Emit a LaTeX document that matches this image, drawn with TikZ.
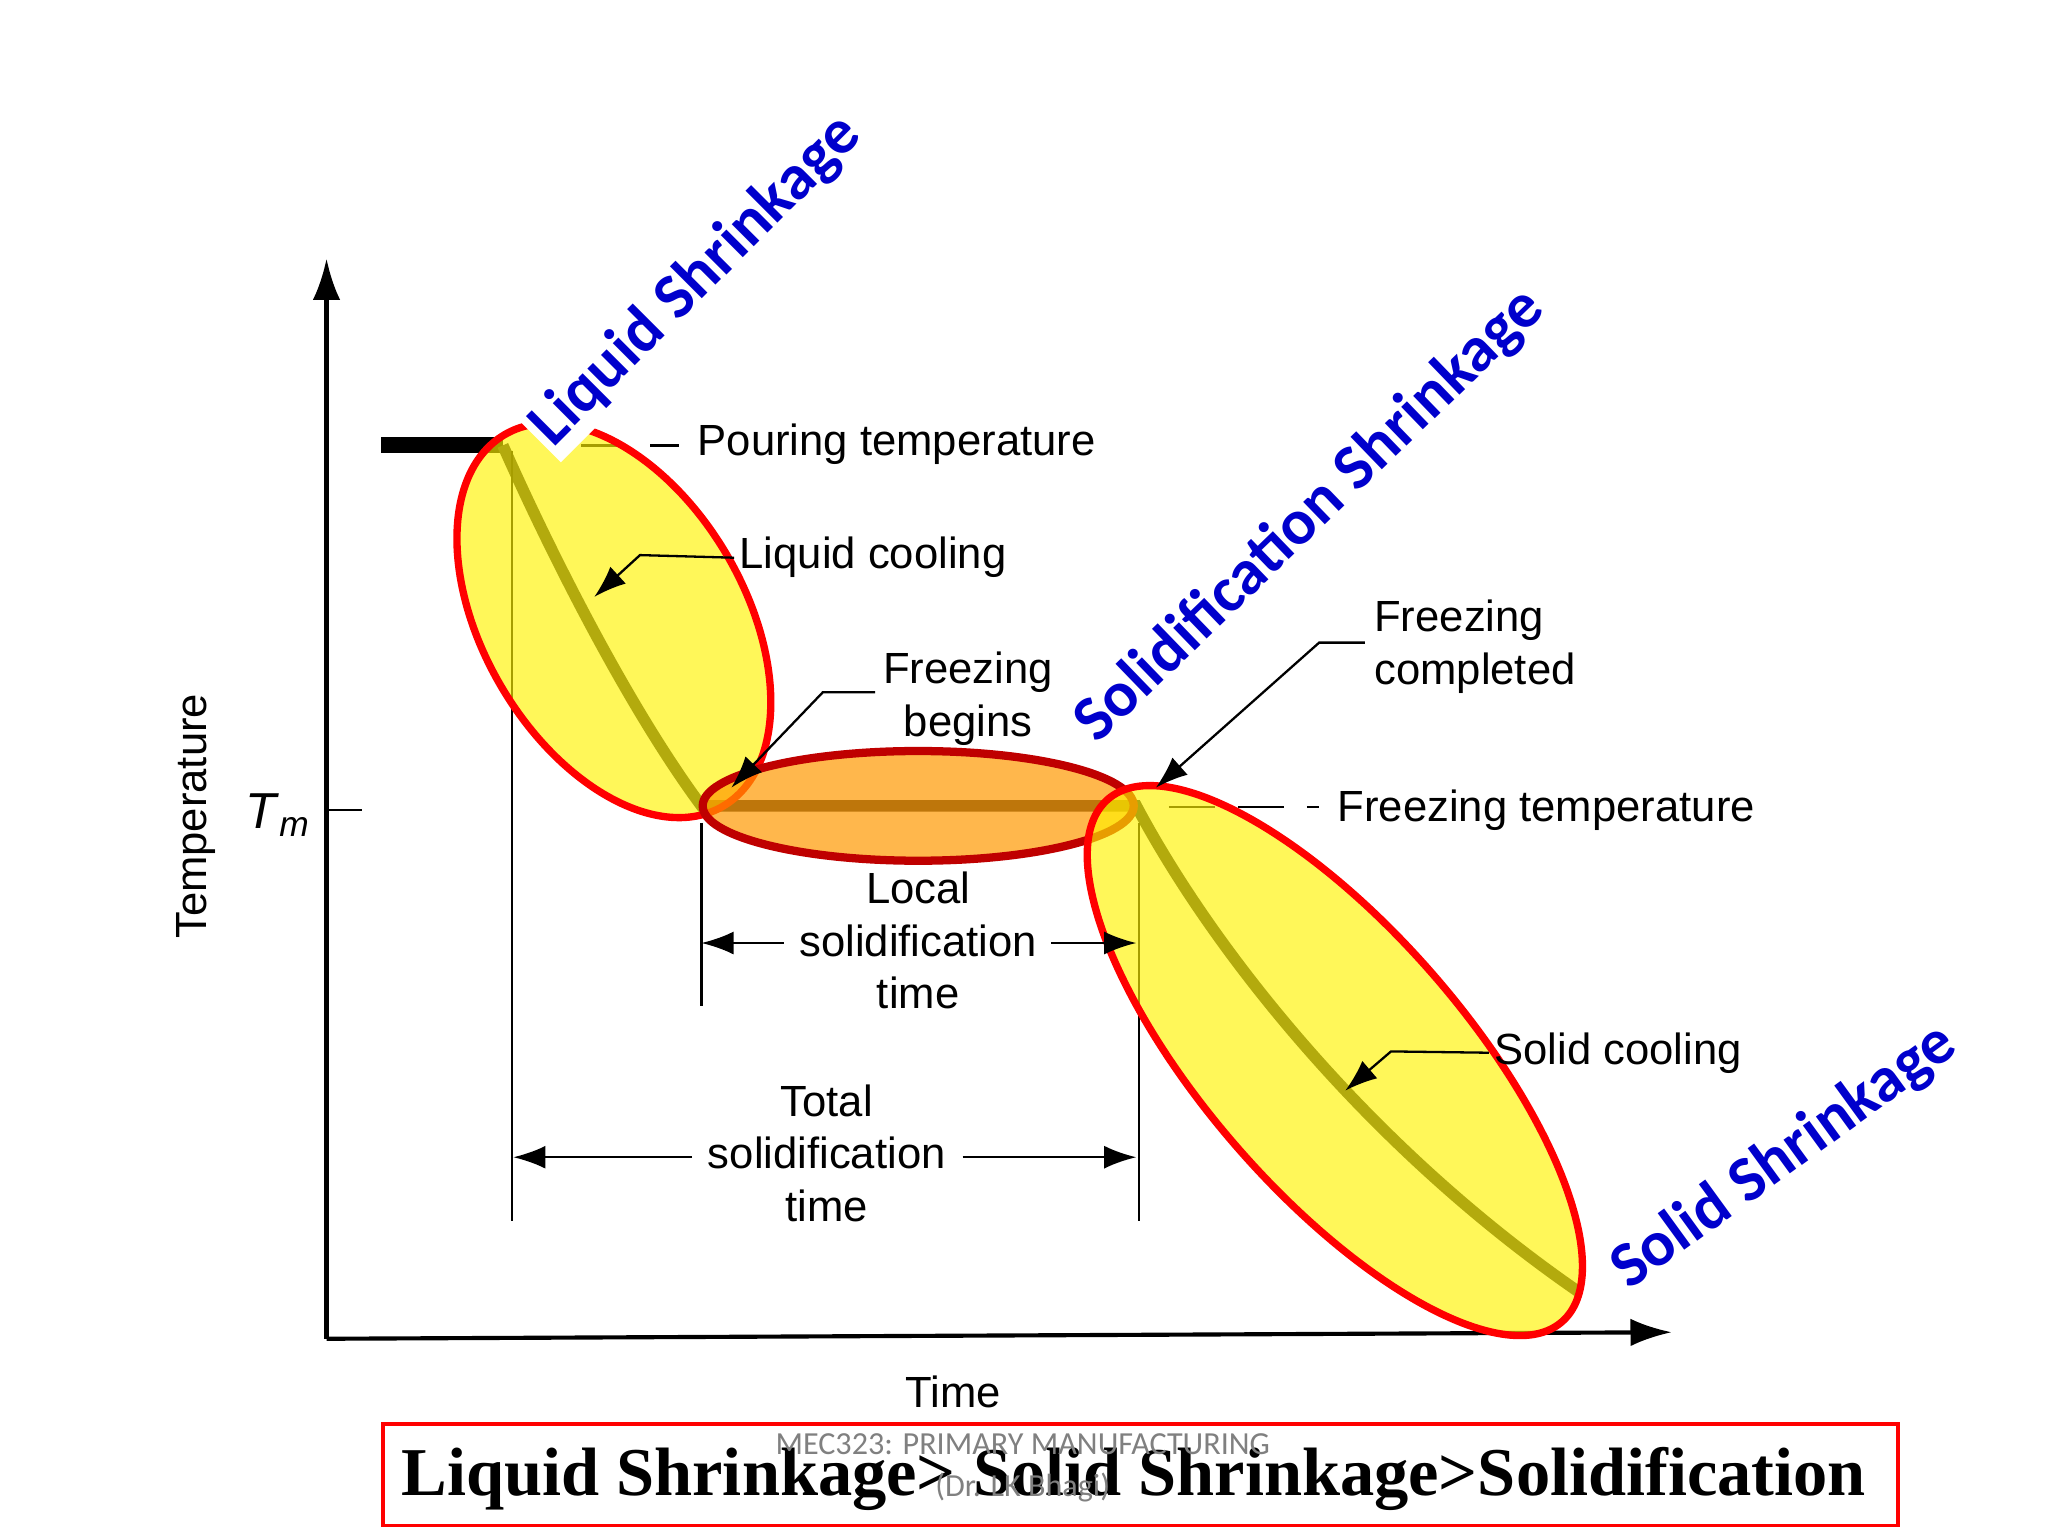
\documentclass[tikz,border=0pt]{standalone}
\usepackage{fontspec}
\setmainfont{Liberation Sans}
\newfontfamily\carlitofam{Carlito}
\newfontfamily\timesfam{Liberation Serif}
\usetikzlibrary{arrows.meta}
\begin{document}
\begin{tikzpicture}[x=0.01cm,y=-0.01cm,
 lbl/.style={font=\fontsize{9.5}{11.5}\selectfont,align=center,inner sep=1pt},
 ax/.style={line width=0.9pt,-{Latex[length=9pt,width=6pt]}},
 thin/.style={line width=0.5pt},
 lead/.style={line width=0.5pt,-{Latex[length=7pt,width=5pt]}},
 curve/.style={line width=2.5pt,black!85},
 blu/.style={text=blue!80!black,font=\carlitofam\bfseries\fontsize{14}{14}\selectfont,fill=white,inner sep=1pt},
 ell/.style={fill=yellow,fill opacity=0.65,draw=red,line width=1.6pt,draw opacity=1}]
\useasboundingbox (0,0) rectangle (1568,1176);
% axes
\coordinate (o) at (250,1025);
\coordinate (yt) at (250,198);
\coordinate (xt) at (1280,1020);
\draw[ax] (o) -- (yt);
\draw[ax] (o) -- (xt);
\draw[thin] (250,620) -- (277,620);
\node[font=\fontsize{11}{11}\selectfont] (tm) at (213,624) {\textit{T}\textsubscript{\textit{m}}};
\node[lbl,rotate=90] (temp) at (150,625) {Temperature};
\node[lbl] (time) at (730,1066) {Time};
% curve
\coordinate (p0) at (292,341);
\coordinate (p1) at (385,341);
\coordinate (p2) at (537,617);
\coordinate (p3) at (870,617);
\coordinate (p4) at (1210,990);
\draw[line width=3.5pt] (p0) -- (p1);
\draw[curve] (p1) .. controls (420,420) and (480,540) .. (p2) -- (p3) .. controls (930,730) and (1050,880) .. (p4);
% vertical lines
\draw[thin] (392,345) -- (392,935);
\draw[thin] (537,630) -- (537,770);
\draw[thin] (872,630) -- (872,935);
% dashed
\draw[thin,dash pattern=on 10pt off 5pt] (445,341) -- (520,341);
\node[lbl,anchor=west] (pour) at (530,340) {Pouring temperature};
\draw[thin,dash pattern=on 10pt off 5pt] (895,618) -- (1010,618);
\node[lbl,anchor=west] (ft) at (1020,620) {Freezing temperature};
% ellipses
\fill[ell] (470,475) ellipse [x radius=165,y radius=100,rotate=-59.5];
\fill[fill=orange!80!yellow,fill opacity=0.7,draw=red!75!black,line width=1.8pt,draw opacity=1] (703,617) ellipse [x radius=165,y radius=42];
\fill[ell] (1022,812) ellipse [x radius=265,y radius=100,rotate=-49];
% labels with leaders
\node[lbl,anchor=west] (lc) at (562,427) {Liquid cooling};
\draw[lead] (lc.west) -- (490,425) -- (455,457);
\node[lbl,anchor=west] (fb) at (672,535) {Freezing\\begins};
\draw[lead] (670,530) -- (630,530) -- (560,603);
\node[lbl,anchor=west,align=left] (fc) at (1048,495) {Freezing\\completed};
\draw[lead] (1045,492) -- (1010,492) -- (885,603);
\node[lbl,anchor=west] (sc) at (1140,806) {Solid cooling};
\draw[lead] (sc.west) -- (1065,805) -- (1030,835);
% time arrows
\node[lbl] (lst) at (703,720) {Local\\solidification\\time};
\draw[lead] (600,722) -- (537,722);
\draw[lead] (805,722) -- (870,722);
\node[lbl] (tst) at (633,883) {Total\\solidification\\time};
\draw[lead] (530,886) -- (393,886);
\draw[lead] (737,886) -- (870,886);
% blue labels
\node[blu,rotate=45] (ls) at (533,215) {Liquid Shrinkage};
\node[blu,rotate=44] (ss) at (1003,395) {Solidification Shrinkage};
\node[blu,rotate=36] (sos) at (1366,886) {Solid Shrinkage};
% bottom box
\draw[red,line width=0.8pt] (293,1090) rectangle (1453,1168);
\node[font=\timesfam\bfseries\fontsize{14.9}{15}\selectfont] (b) at (868,1132) {Liquid Shrinkage> Solid Shrinkage>Solidification};
\node[font=\carlitofam\fontsize{7}{7}\selectfont,text=gray] (f1) at (783,1106) {MEC323: PRIMARY MANUFACTURING};
\node[font=\carlitofam\fontsize{7}{7}\selectfont,text=gray] (f2) at (783,1139) {(Dr. LK Bhagi)};
\end{tikzpicture}
\end{document}
